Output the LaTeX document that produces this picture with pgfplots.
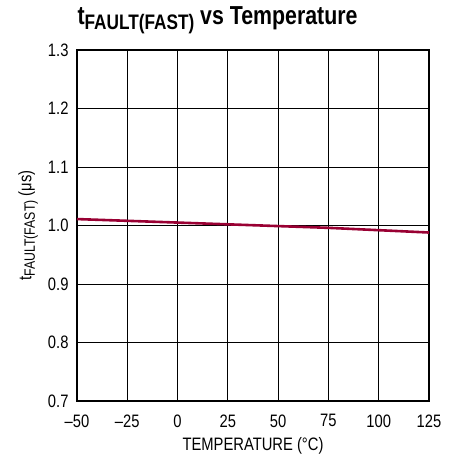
\documentclass[border=0pt]{standalone}
\usepackage{pgfplots}
\pgfplotsset{compat=1.18}
\usepackage{fontspec}
\setmainfont{Liberation Sans}[FakeStretch=0.82]
\definecolor{ltred}{HTML}{990033}
\begin{document}
\begin{tikzpicture}
\begin{axis}[
  scale only axis,
  width=352pt, height=351pt,
  xmin=-50, xmax=125, ymin=0.7, ymax=1.3,
  xtick={-50,-25,0,25,50,75,100,125},
  xticklabels={--50,--25,0,25,50,75,100,125},
  ytick={0.7,0.8,0.9,1.0,1.1,1.2,1.3},
  yticklabels={0.7,0.8,0.9,1.0,1.1,1.2,1.3},
  major tick length=0pt,
  grid=major,
  major grid style={black, line width=0.8pt},
  axis line style={black, line width=1.3pt},
  tick label style={font=\fontsize{18}{19}\selectfont},
  xticklabel style={yshift=-10pt},
  yticklabel style={xshift=-5pt},
  xlabel={TEMPERATURE (°C)},
  ylabel={t\raisebox{-3.5pt}{\fontsize{15}{15}\selectfont FAULT(FAST)} (μs)},
  label style={font=\fontsize{18}{19}\selectfont},
  xlabel style={yshift=-3pt},
  ylabel style={yshift=3pt},
  title={\bfseries t\raisebox{-5pt}{\fontsize{21}{21}\selectfont\bfseries FAULT(FAST)} vs Temperature},
  title style={font=\fontsize{26}{27}\selectfont, at={(0,1)}, anchor=south west, xshift=-3pt, yshift=7pt},
]
\addplot[ltred, line width=2.6pt] coordinates {
  (-50,1.011) (-25,1.008) (0,1.005) (25,1.002) (50,0.999) (75,0.996) (100,0.992) (125,0.988)
};
\end{axis}
\path (current axis.south west) ++(-77pt,-57pt) rectangle ++(448pt,458pt);
\end{tikzpicture}
\end{document}
